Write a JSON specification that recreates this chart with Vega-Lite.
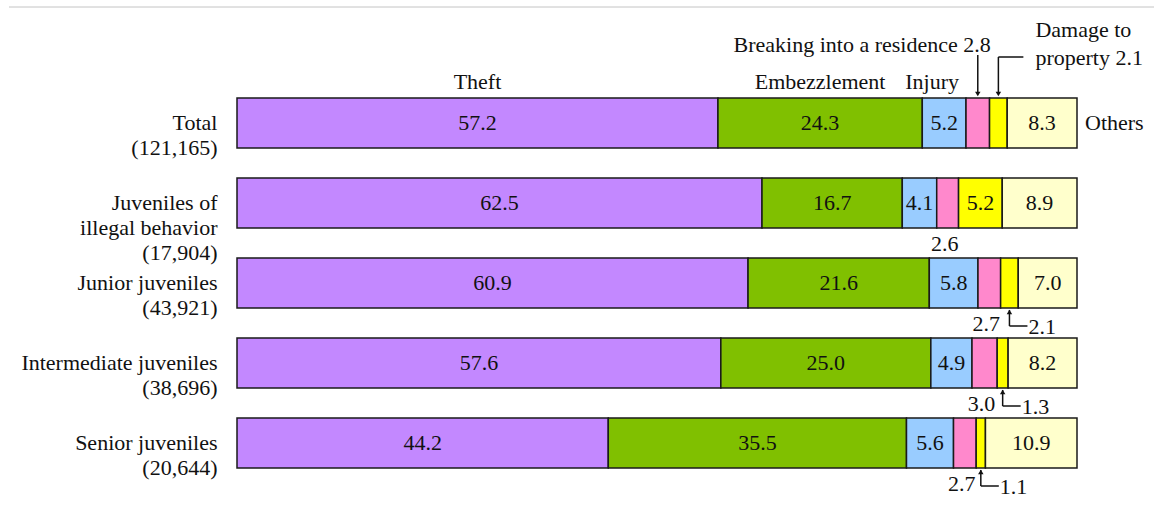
{
  "$schema": "https://vega.github.io/schema/vega-lite/v6.json",
  "autosize": "none",
  "padding": {"left": 237, "top": 83, "right": 77, "bottom": 32},
  "width": 840,
  "height": 400,
  "background": "white",
  "config": {
    "view": {"stroke": null},
    "text": {"font": "Liberation Serif", "fontSize": 22, "color": "#111111"},
    "axis": {"labelFont": "Liberation Serif"}
  },
  "data": {
    "values": [
      {"group": "Total\n(121,165)", "row": "Total", "category": "Theft", "order": 1, "value": 57.2},
      {"group": "Total\n(121,165)", "row": "Total", "category": "Embezzlement", "order": 2, "value": 24.3},
      {"group": "Total\n(121,165)", "row": "Total", "category": "Injury", "order": 3, "value": 5.2},
      {"group": "Total\n(121,165)", "row": "Total", "category": "Breaking into a residence", "order": 4, "value": 2.8},
      {"group": "Total\n(121,165)", "row": "Total", "category": "Damage to property", "order": 5, "value": 2.1},
      {"group": "Total\n(121,165)", "row": "Total", "category": "Others", "order": 6, "value": 8.3},

      {"group": "Juveniles of\nillegal behavior\n(17,904)", "row": "Illegal", "category": "Theft", "order": 1, "value": 62.5},
      {"group": "Juveniles of\nillegal behavior\n(17,904)", "row": "Illegal", "category": "Embezzlement", "order": 2, "value": 16.7},
      {"group": "Juveniles of\nillegal behavior\n(17,904)", "row": "Illegal", "category": "Injury", "order": 3, "value": 4.1},
      {"group": "Juveniles of\nillegal behavior\n(17,904)", "row": "Illegal", "category": "Breaking into a residence", "order": 4, "value": 2.6},
      {"group": "Juveniles of\nillegal behavior\n(17,904)", "row": "Illegal", "category": "Damage to property", "order": 5, "value": 5.2},
      {"group": "Juveniles of\nillegal behavior\n(17,904)", "row": "Illegal", "category": "Others", "order": 6, "value": 8.9},

      {"group": "Junior juveniles\n(43,921)", "row": "Junior", "category": "Theft", "order": 1, "value": 60.9},
      {"group": "Junior juveniles\n(43,921)", "row": "Junior", "category": "Embezzlement", "order": 2, "value": 21.6},
      {"group": "Junior juveniles\n(43,921)", "row": "Junior", "category": "Injury", "order": 3, "value": 5.8},
      {"group": "Junior juveniles\n(43,921)", "row": "Junior", "category": "Breaking into a residence", "order": 4, "value": 2.7},
      {"group": "Junior juveniles\n(43,921)", "row": "Junior", "category": "Damage to property", "order": 5, "value": 2.1},
      {"group": "Junior juveniles\n(43,921)", "row": "Junior", "category": "Others", "order": 6, "value": 7.0},

      {"group": "Intermediate juveniles\n(38,696)", "row": "Intermediate", "category": "Theft", "order": 1, "value": 57.6},
      {"group": "Intermediate juveniles\n(38,696)", "row": "Intermediate", "category": "Embezzlement", "order": 2, "value": 25.0},
      {"group": "Intermediate juveniles\n(38,696)", "row": "Intermediate", "category": "Injury", "order": 3, "value": 4.9},
      {"group": "Intermediate juveniles\n(38,696)", "row": "Intermediate", "category": "Breaking into a residence", "order": 4, "value": 3.0},
      {"group": "Intermediate juveniles\n(38,696)", "row": "Intermediate", "category": "Damage to property", "order": 5, "value": 1.3},
      {"group": "Intermediate juveniles\n(38,696)", "row": "Intermediate", "category": "Others", "order": 6, "value": 8.2},

      {"group": "Senior juveniles\n(20,644)", "row": "Senior", "category": "Theft", "order": 1, "value": 44.2},
      {"group": "Senior juveniles\n(20,644)", "row": "Senior", "category": "Embezzlement", "order": 2, "value": 35.5},
      {"group": "Senior juveniles\n(20,644)", "row": "Senior", "category": "Injury", "order": 3, "value": 5.6},
      {"group": "Senior juveniles\n(20,644)", "row": "Senior", "category": "Breaking into a residence", "order": 4, "value": 2.7},
      {"group": "Senior juveniles\n(20,644)", "row": "Senior", "category": "Damage to property", "order": 5, "value": 1.1},
      {"group": "Senior juveniles\n(20,644)", "row": "Senior", "category": "Others", "order": 6, "value": 10.9}
    ]
  },
  "transform": [
    {"stack": "value", "groupby": ["group"], "sort": [{"field": "order", "order": "ascending"}], "as": ["x0", "x1"], "offset": "normalize"},
    {"calculate": "(datum.x0 + datum.x1) / 2", "as": "mid"}
  ],
  "encoding": {
    "y": {
      "field": "group",
      "type": "nominal",
      "sort": null,
      "scale": {"paddingInner": 0.375, "paddingOuter": 0.1875},
      "axis": {
        "title": null,
        "domain": false,
        "ticks": false,
        "labelPadding": 20,
        "labelFontSize": 22,
        "labelColor": "#111111",
        "labelLineHeight": 25,
        "labelLimit": 400,
        "labelExpr": "split(datum.label, '\\n')"
      }
    }
  },
  "layer": [
    {
      "mark": {"type": "bar", "stroke": "#1a1a1a", "strokeWidth": 1.5},
      "encoding": {
        "x": {"field": "x0", "type": "quantitative", "scale": {"domain": [0, 1], "nice": false, "zero": false}, "axis": null},
        "x2": {"field": "x1"},
        "color": {
          "field": "category",
          "type": "nominal",
          "legend": null,
          "scale": {
            "domain": ["Theft", "Embezzlement", "Injury", "Breaking into a residence", "Damage to property", "Others"],
            "range": ["#C388FF", "#80C000", "#99CCFF", "#FF88CC", "#FFFF00", "#FFFFCC"]
          }
        }
      }
    },
    {
      "transform": [{"filter": "datum.row === 'Total' && datum.category === 'Theft'"}],
      "mark": {"type": "rule", "color": "#c4c4c4", "strokeWidth": 1, "yOffset": -116, "xOffset": -228, "x2Offset": 917},
      "encoding": {
        "x": {"field": "x0", "type": "quantitative"},
        "x2": {"field": "x0"}
      }
    },
    {
      "transform": [{"filter": "datum.value >= 4"}],
      "mark": {"type": "text"},
      "encoding": {
        "x": {"field": "mid", "type": "quantitative"},
        "text": {"field": "value", "type": "quantitative", "format": ".1f"}
      }
    },
    {
      "transform": [{"filter": "datum.row !== 'Total' && datum.category === 'Breaking into a residence'"}],
      "mark": {"type": "text", "dy": 41, "dx": -3},
      "encoding": {
        "x": {"field": "mid", "type": "quantitative"},
        "text": {"field": "value", "type": "quantitative", "format": ".1f"}
      }
    },
    {
      "transform": [{"filter": "datum.row !== 'Total' && datum.category === 'Damage to property' && datum.value < 4"}],
      "layer": [
        {
          "mark": {"type": "rule", "color": "#111111", "strokeWidth": 1.5, "yOffset": 27, "y2Offset": 43},
          "encoding": {
            "x": {"field": "mid", "type": "quantitative"},
            "y2": {"field": "group"}
          }
        },
        {
          "mark": {"type": "rule", "color": "#111111", "strokeWidth": 1.5, "yOffset": 43, "x2Offset": 18},
          "encoding": {
            "x": {"field": "mid", "type": "quantitative"},
            "x2": {"field": "mid"}
          }
        },
        {
          "mark": {"type": "point", "shape": "triangle-up", "filled": true, "color": "#111111", "size": 30, "opacity": 1, "yOffset": 29},
          "encoding": {"x": {"field": "mid", "type": "quantitative"}}
        },
        {
          "mark": {"type": "text", "align": "left", "dx": 19, "dy": 44},
          "encoding": {
            "x": {"field": "mid", "type": "quantitative"},
            "text": {"field": "value", "type": "quantitative", "format": ".1f"}
          }
        }
      ]
    },
    {
      "transform": [{"filter": "datum.row === 'Total' && (datum.category === 'Theft' || datum.category === 'Embezzlement')"}],
      "mark": {"type": "text", "dy": -41},
      "encoding": {
        "x": {"field": "mid", "type": "quantitative"},
        "text": {"field": "category"}
      }
    },
    {
      "transform": [{"filter": "datum.row === 'Total' && datum.category === 'Injury'"}],
      "mark": {"type": "text", "dy": -41, "dx": -12},
      "encoding": {
        "x": {"field": "mid", "type": "quantitative"},
        "text": {"field": "category"}
      }
    },
    {
      "transform": [{"filter": "datum.row === 'Total' && datum.category === 'Others'"}],
      "mark": {"type": "text", "align": "left", "dx": 8},
      "encoding": {
        "x": {"field": "x1", "type": "quantitative"},
        "text": {"field": "category"}
      }
    },
    {
      "transform": [
        {"filter": "datum.row === 'Total' && datum.category === 'Breaking into a residence'"},
        {"calculate": "datum.category + ' ' + format(datum.value, '.1f')", "as": "note"}
      ],
      "layer": [
        {
          "mark": {"type": "rule", "color": "#111111", "strokeWidth": 1.5, "yOffset": -68, "y2Offset": -30},
          "encoding": {
            "x": {"field": "mid", "type": "quantitative"},
            "y2": {"field": "group"}
          }
        },
        {
          "mark": {"type": "point", "shape": "triangle-down", "filled": true, "color": "#111111", "size": 30, "opacity": 1, "yOffset": -29},
          "encoding": {"x": {"field": "mid", "type": "quantitative"}}
        },
        {
          "mark": {"type": "text", "align": "right", "dx": 13, "dy": -78},
          "encoding": {
            "x": {"field": "mid", "type": "quantitative"},
            "text": {"field": "note"}
          }
        }
      ]
    },
    {
      "transform": [
        {"filter": "datum.row === 'Total' && datum.category === 'Damage to property'"},
        {"calculate": "'Damage to\\nproperty ' + format(datum.value, '.1f')", "as": "note"}
      ],
      "layer": [
        {
          "mark": {"type": "rule", "color": "#111111", "strokeWidth": 1.5, "yOffset": -66, "y2Offset": -30},
          "encoding": {
            "x": {"field": "mid", "type": "quantitative"},
            "y2": {"field": "group"}
          }
        },
        {
          "mark": {"type": "rule", "color": "#111111", "strokeWidth": 1.5, "yOffset": -66, "x2Offset": 25},
          "encoding": {
            "x": {"field": "mid", "type": "quantitative"},
            "x2": {"field": "mid"}
          }
        },
        {
          "mark": {"type": "point", "shape": "triangle-down", "filled": true, "color": "#111111", "size": 30, "opacity": 1, "yOffset": -29},
          "encoding": {"x": {"field": "mid", "type": "quantitative"}}
        },
        {
          "mark": {"type": "text", "align": "left", "dx": 37, "dy": -93, "lineBreak": "\n", "lineHeight": 28},
          "encoding": {
            "x": {"field": "mid", "type": "quantitative"},
            "text": {"field": "note"}
          }
        }
      ]
    }
  ]
}
